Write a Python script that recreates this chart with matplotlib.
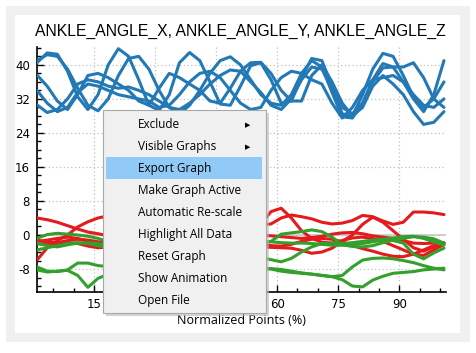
import numpy as np
import matplotlib.pyplot as plt
from matplotlib.patches import Rectangle
from matplotlib.ticker import MultipleLocator

plt.rcParams['axes.unicode_minus'] = False

# normalized points (%), sampled every 2.5
x = np.linspace(1, 101, 41)

# ANKLE_ANGLE_X (blue)
blue_1 = [40.5, 42.8, 42.5, 38.5, 32.5, 29.5, 33, 40, 43.8, 42, 36.5, 30.5, 29.3, 33, 40.5, 42.9, 41, 36, 30.8, 30.5,
          35, 39.8, 40.5, 36.5, 31, 31.5, 37, 41.5, 41, 35, 28.5, 28, 33, 39, 42.7, 42, 37.5, 32.5, 30, 32, 36]
blue_2 = [41, 42.4, 42, 39, 34.5, 30.5, 29.2, 32, 37.5, 41.5, 42, 39, 34, 30, 28.5, 30.5, 34, 38, 41, 41.9,
          40, 36.5, 33, 31, 30.5, 33, 38, 41, 39.5, 33.5, 27.8, 27.5, 31, 36.5, 40.3, 39.5, 36, 32, 29, 33, 41]
blue_3 = [37.6, 35, 31.5, 29.5, 33, 37.5, 38, 37, 35.5, 34, 31.5, 30.5, 34.5, 38, 37, 35.5, 34, 31.5, 31, 34.5,
          38.5, 40.5, 40.6, 38, 34, 31.5, 31.5, 37.5, 40, 36, 31, 28, 30, 35, 37.5, 35.5, 33, 29, 26, 26.5, 29]
blue_4 = [30.6, 28.8, 29.5, 32, 35.5, 36.5, 36, 35, 34.5, 34.8, 34, 33, 31.5, 30, 29.5, 31, 33, 35.5, 37.5, 38.8,
          38.5, 36, 33.5, 30.5, 29.5, 32, 36.5, 39.5, 39, 34.5, 30, 28.5, 31, 36, 39.3, 39.5, 39.5, 40.5, 37, 32, 30]
blue_5 = [34, 31, 29, 30, 33.5, 35.5, 35, 34, 33, 32.5, 32, 31.5, 30, 30.5, 33, 36, 38, 38.5, 37, 34,
          31, 29.5, 30, 34, 37, 38.5, 38, 36.5, 35.5, 31, 27.5, 30, 34, 36.5, 37, 37.5, 36, 33, 30.5, 30, 32]

# ANKLE_ANGLE_Y (red)
red_1 = [4, 3.6, 3, 2.2, 1.4, 0.7, 0.3, -0.2, -0.8, -1.2, -1.5, -1.8, -2, -2, -1.8, -1.5, -1, -0.5, 0, 0.5,
         1, 1.5, 2.5, 5.5, 6.3, 4, 1, -0.8, -1.7, -1.9, -1.3, -0.7, -0.5, -0.8, -1.5, -2.5, -3.5, -4.5, -4.8, -3.5, -2.2]
red_2 = [-5.9, -3, -1.3, 0, 1.9, 3.1, 4, 4.5, 4.6, 4.5, 4.2, 4, 3.6, 3.2, 2.8, 2.5, 2.2, 2, 1.8, 1.8,
         2, 2.2, 2.4, 2.6, 4, 4.7, 4.3, 3.8, 3, 2.6, 2.8, 3.4, 4.6, 4.3, 3.3, 2.5, 3, 5.4, 5.4, 5.2, 4.8]
red_3 = [-1.2, -1.7, -1.8, -1.3, -1, -1.2, -1.6, -1.8, -1.5, -1, -0.5, 0, 0.3, 0.5, 0.3, 0, -0.2, -0.3, -0.2, 0,
         0.2, 0.2, 0, -0.2, -0.4, -0.6, -0.8, -0.6, -0.3, 0.2, 0.5, 0.6, 0.3, -0.2, -0.5, -0.8, -1.3, -1.9, -2, -1.9, -1.8]
red_4 = [-2, -2.3, -2.2, -1.8, -2, -2.6, -3, -2.8, -2.5, -2.2, -2.3, -2.6, -3, -3.3, -3.5, -3.4, -3.2, -3, -3, -2.9,
         -2.8, -2.8, -2.8, -2.9, -3, -3.1, -3.6, -4.3, -4, -3.1, -1.5, 0, 2.5, 4.2, 3, 1, -1, -3, -3.8, -2.8, -2]
red_5 = [-1.5, -1.2, -0.8, -0.5, -0.8, -1.5, -2.2, -2.6, -2.8, -2.5, -2, -1.5, -1.2, -1.3, -1.8, -2.3, -2.5, -2.2, -1.8, -1.5,
         -1.5, -1.8, -2.2, -2.5, -2.6, -2.2, -1.5, -1, -0.8, -1, -1.6, -2.5, -3.2, -3.8, -4.5, -5, -5.1, -4.5, -3.5, -2.5, -1.9]

# ANKLE_ANGLE_Z (green)
green_1 = [-0.8, 0.1, 0.4, 0.2, 0, -0.3, -0.8, -1.6, -2, -2, -1.6, -1.2, -1, -1.2, -1.5, -1.8, -2, -2, -1.8, -1.8,
           -2, -2.2, -2.1, -1.5, 0.2, 0.5, 0.8, 1.2, 0.8, -0.5, -2.3, -2.7, -2.8, -2.5, -1.8, -1.2, -0.8, -0.4, -0.5, -0.9, -1.9]
green_2 = [-1.9, -2.5, -2.8, -2.3, -1.9, -1.8, -2, -2.3, -2.6, -2.8, -2.6, -2.3, -2.2, -2.4, -2.6, -2.5, -2.2, -2, -1.8, -1.7,
           -1.6, -1.5, -1.5, -1.6, -1.8, -1.9, -1.9, -2, -2.2, -2.4, -2.4, -2.2, -2, -1.6, -1.2, -1.3, -1.9, -4.5, -5.6, -4.2, -3.1]
green_3 = [-3.5, -3, -2.5, -2, -1.8, -2, -2.5, -3, -3.5, -4, -4.3, -4.5, -4.6, -4.8, -5, -5, -4.8, -4.6, -4.6, -4.8,
           -5, -5.2, -5.3, -5.8, -6.3, -5.5, -4, -2.8, -2, -1.9, -2, -1.8, -1.5, -1.2, -1, -0.7, -0.4, -0.3, -0.8, -1.6, -2.4]
green_4 = [-7.5, -8.5, -8.6, -8.2, -6.6, -6.6, -7.2, -7.4, -7.3, -7, -6.8, -7, -7.3, -7.6, -7.8, -7.6, -7.3, -7.2, -7.3, -7.5,
           -7.6, -7.7, -7.8, -8, -8.5, -8.8, -9, -9.2, -9.5, -9.8, -9.5, -7.5, -5.9, -5.5, -5.4, -5.6, -6, -6.5, -7.2, -7.8, -8.2]
green_5 = [-8.2, -8.7, -8.5, -8.3, -9.5, -12.3, -10.2, -9.2, -8.8, -8.6, -8.6, -8.8, -9, -9.2, -9.3, -9.2, -9, -8.8, -8.6, -8.4,
           -8.3, -8.2, -8, -7.9, -8.1, -8.5, -8.9, -9.2, -9.5, -9.8, -10.5, -12, -12.2, -10.6, -9.7, -9, -8.8, -8.6, -8.2, -8, -7.8]

menu_items = ['Exclude', 'Visible Graphs', 'Export Graph', 'Make Graph Active', 'Automatic Re-scale',
              'Highlight All Data', 'Reset Graph', 'Show Animation', 'Open File']

W, H = 476, 353


def fx(px):
    return px / W


def fy(py):
    return 1 - py / H


fig = plt.figure(figsize=(W / 100, H / 100), dpi=100, facecolor='white')

# window frame and white panel
fig.add_artist(Rectangle((fx(6), fy(342)), (470 - 6) / W, (342 - 6) / H, transform=fig.transFigure,
                         facecolor='#f0f0f0', edgecolor='none', zorder=-3))
fig.add_artist(Rectangle((fx(15), fy(333)), (460 - 15) / W, (333 - 15) / H, transform=fig.transFigure,
                         facecolor='white', edgecolor='none', zorder=-2))

ax = fig.add_axes([fx(37), fy(292), (446 - 37) / W, (292 - 47) / H])
ax.set_facecolor('none')

for y in [blue_1, blue_2, blue_3, blue_4, blue_5]:
    ax.plot(x, y, color='#2279b5', lw=2.2, solid_capstyle='round', solid_joinstyle='round', zorder=3)
for y in [red_1, red_2, red_3, red_4, red_5]:
    ax.plot(x, y, color='#e41a1c', lw=2.2, solid_capstyle='round', solid_joinstyle='round', zorder=3)
for y in [green_1, green_2, green_3, green_4, green_5]:
    ax.plot(x, y, color='#33a02c', lw=2.2, solid_capstyle='round', solid_joinstyle='round', zorder=3)

ax.axhline(0, color='#c8c8c8', lw=1.2, zorder=1)

ax.set_xlim(1, 101.5)
ax.set_ylim(-13.4, 44.2)
ax.xaxis.set_major_locator(MultipleLocator(15))
ax.xaxis.set_minor_locator(MultipleLocator(5))
ax.yaxis.set_major_locator(MultipleLocator(8))
ax.yaxis.set_minor_locator(MultipleLocator(2))
ax.grid(True, which='major', color='#c0c0c0', linestyle=(0, (1, 2)), lw=0.9, zorder=0)

for s in ['top', 'right']:
    ax.spines[s].set_visible(False)
for s in ['left', 'bottom']:
    ax.spines[s].set_linewidth(1.2)
ax.tick_params(which='major', direction='in', length=5, width=1, labelsize=8.5, pad=4)
ax.tick_params(which='minor', direction='in', length=3, width=1)
ax.tick_params(axis='y', pad=5)

fig.text(fx(240), fy(31), 'ANKLE_ANGLE_X, ANKLE_ANGLE_Y, ANKLE_ANGLE_Z', ha='center', va='center',
         fontsize=11.3, family='Liberation Sans')
fig.text(fx(241), fy(320), 'Normalized Points (%)', ha='center', va='center', fontsize=9,
         family='Open Sans')

# context menu
fig.add_artist(Rectangle((fx(106), fy(316)), (266 - 103) / W, (313 - 110) / H, transform=fig.transFigure,
                         facecolor='#b8b8b8', edgecolor='none', alpha=0.6, zorder=4))
fig.add_artist(Rectangle((fx(103), fy(313)), (266 - 103) / W, (313 - 110) / H, transform=fig.transFigure,
                         facecolor='#f0f0f0', edgecolor='#a8a8a8', lw=0.8, zorder=5))
fig.add_artist(Rectangle((fx(106), fy(179)), (262 - 106) / W, (179 - 157) / H, transform=fig.transFigure,
                         facecolor='#91c9f7', edgecolor='none', zorder=6))
for i, item in enumerate(menu_items):
    yc = 125 + i * 21.9
    fig.text(fx(138), fy(yc), item, ha='left', va='center', fontsize=8.5, family='Open Sans',
             color='black', zorder=7)
    if item in ('Exclude', 'Visible Graphs'):
        fig.text(fx(248), fy(yc), '\u25b6', ha='center', va='center', fontsize=5, color='black', zorder=7)

fig.savefig('out.png', dpi=100)
